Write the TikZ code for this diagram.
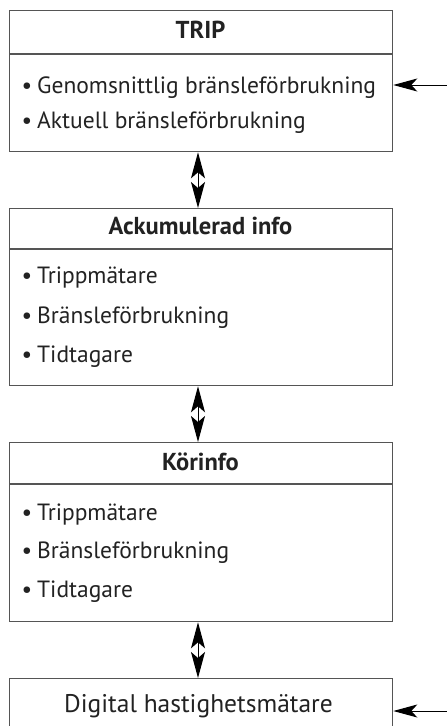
\documentclass[tikz,border=0pt]{standalone}
\usepackage{fontspec}
\setmainfont{PT Sans}
\usetikzlibrary{arrows.meta}
\definecolor{linegray}{HTML}{555555}
\definecolor{txt}{HTML}{222222}
\newcommand{\bul}{\llap{\textbullet\hspace{5pt}}}
\tikzset{
  boxframe/.style={draw=linegray, line width=1.3pt, fill=none, inner sep=0pt, anchor=north west, minimum width=383pt},
  divline/.style={draw=linegray, line width=1.3pt},
  item/.style={anchor=base west, inner sep=0pt, text=txt, font=\fontsize{23.5}{28}\selectfont},
  head/.style={anchor=base, inner sep=0pt, text=txt, font=\fontsize{24.5}{29}\selectfont\bfseries},
  dbl/.style={draw=black, line width=1pt, {Stealth[length=26pt,width=14pt,inset=6pt]}-{Stealth[length=26pt,width=14pt,inset=6pt]}},
  inarrow/.style={draw=black, line width=1pt, -{Stealth[length=24pt,width=13pt,inset=6pt]}}
}
\begin{document}
\begin{tikzpicture}[x=1pt,y=-1pt]
\useasboundingbox[fill=white] (0,0) rectangle (447,726);
% box 1
\node[boxframe, minimum height=141pt] (b1) at (9,10) {};
\draw[divline] (9,54) -- (392,54);
\node[head] (h1) at (200.5,38) {TRIP};
\node[item] (t11) at (37,93) {\bul Genomsnittlig bränsleförbrukning};
\node[item] (t12) at (37,128) {\bul Aktuell bränsleförbrukning};
% box 2
\node[boxframe, minimum height=177pt] (b2) at (9,208) {};
\draw[divline] (9,249) -- (392,249);
\node[head] (h2) at (200.5,234) {Ackumulerad info};
\node[item] (t21) at (37,283) {\bul Trippmätare};
\node[item] (t22) at (37,323) {\bul Bränsleförbrukning};
\node[item] (t23) at (37,362) {\bul Tidtagare};
% box 3
\node[boxframe, minimum height=179pt] (b3) at (9,442) {};
\draw[divline] (9,484) -- (392,484);
\node[head] (h3) at (200.5,470) {Körinfo};
\node[item] (t31) at (37,520) {\bul Trippmätare};
\node[item] (t32) at (37,558) {\bul Bränsleförbrukning};
\node[item] (t33) at (37,597) {\bul Tidtagare};
% box 4
\node[boxframe, minimum height=80pt] (b4) at (9,678) {};
\node[item, anchor=base, font=\fontsize{25.5}{30}\selectfont] (t41) at (198.5,712) {Digital hastighetsmätare};
% arrows
\draw[dbl] (b1.south -| 198,0) -- (b2.north -| 198,0);
\draw[dbl] (b2.south -| 198,0) -- (b3.north -| 198,0);
\draw[dbl] (b3.south -| 198,0) -- (b4.north -| 198,0);
\coordinate (in1) at (447,85);
\coordinate (in4) at (447,711);
\draw[inarrow] (in1) -- (in1 -| b1.east);
\draw[inarrow] (in4) -- (in4 -| b4.east);
\end{tikzpicture}
\end{document}
